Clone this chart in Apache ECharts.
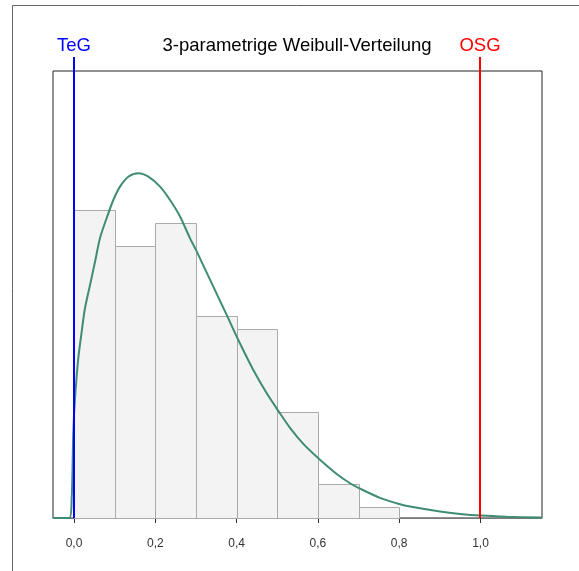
<!DOCTYPE html>
<html>
<head>
<meta charset="utf-8">
<script src="https://cdn.jsdelivr.net/npm/echarts@6/dist/echarts.min.js"></script>
<style>
  html, body { margin: 0; padding: 0; background: #fff; }
  #chart { width: 579px; height: 571px; }
</style>
</head>
<body>
<div id="chart"></div>
<script>
// Histogram classes (lower edge, upper edge) and density heights
const binStart = [0.0, 0.1, 0.2, 0.3, 0.4, 0.5, 0.6, 0.7];
const binEnd   = [0.1, 0.2, 0.3, 0.4, 0.5, 0.6, 0.7, 0.8];
const binDensity = [2.17, 1.92, 2.08, 1.42, 1.33, 0.75, 0.24, 0.08];

// Fitted 3-parameter Weibull density, sampled points
const curveX = [-0.0517, -0.0116, -0.0057, -0.0017, 0.0025, 0.0106, 0.0189, 0.0271, 0.0394, 0.0517,
  0.064, 0.0804, 0.0967, 0.1132, 0.1336, 0.1582, 0.1828, 0.2116, 0.2362, 0.2608,
  0.2854, 0.3001, 0.3427, 0.3756, 0.4042, 0.4411, 0.4741, 0.5026, 0.5314, 0.5641,
  0.601, 0.6463, 0.679, 0.7036, 0.7528, 0.802, 0.8266, 0.9004, 0.9496, 1.0012, 1.0644, 1.1513];
const curveY = [0, 0, 0.139, 0.608, 0.846, 1.128, 1.313, 1.48, 1.642, 1.806,
  1.973, 2.114, 2.241, 2.335, 2.405, 2.429, 2.405, 2.335, 2.241, 2.125,
  1.971, 1.889, 1.63, 1.431, 1.254, 1.043, 0.879, 0.755, 0.635, 0.522,
  0.421, 0.31, 0.245, 0.207, 0.142, 0.097, 0.081, 0.046, 0.029, 0.017, 0.009, 0.003];

// Specification limits
const limitNames = ['TeG', 'OSG'];
const limitValues = [0.0, 1.0];
const limitColors = ['#0000ff', '#ff0000'];

// Axis tick positions
const tickValues = [0.0, 0.2, 0.4, 0.6, 0.8, 1.0];

const titleText = '3-parametrige Weibull-Verteilung';
const FONT = '"Liberation Sans", Arial, sans-serif';

const chart = echarts.init(document.getElementById('chart'), null, { renderer: 'canvas' });

const histData = binStart.map((s, i) => [s, binEnd[i], binDensity[i]]);
const curveData = curveX.map((x, i) => [x, curveY[i]]);
const limitData = limitValues.map(v => [v]);

const px = v => Math.round(v) + 0.5;

chart.setOption({
  animation: false,
  backgroundColor: '#ffffff',
  grid: {
    left: 53, right: 37, top: 71, bottom: 53,
    show: true, borderColor: '#222', borderWidth: 1, backgroundColor: 'transparent'
  },
  graphic: [
    {
      type: 'rect', silent: true, z: -10,
      shape: { x: 12.5, y: 5.5, width: 620, height: 620 },
      style: { fill: 'none', stroke: '#666', lineWidth: 1 }
    },
    {
      type: 'text', silent: true,
      style: {
        text: titleText, x: 297, y: 46, align: 'center', verticalAlign: 'middle',
        font: '18.5px ' + FONT, fill: '#000'
      }
    }
  ],
  xAxis: {
    type: 'value', min: -0.0517, max: 1.1513,
    splitLine: { show: false },
    axisLine: { show: true, onZero: false, lineStyle: { color: '#777', width: 1 } },
    axisTick: { show: true, customValues: tickValues, length: 5, lineStyle: { color: '#333' } },
    axisLabel: {
      show: true, customValues: tickValues, margin: 20,
      fontFamily: FONT, fontSize: 12, color: '#333',
      formatter: v => v.toFixed(1).replace('.', ',')
    }
  },
  yAxis: {
    type: 'value', min: 0, max: 3.15,
    show: false, splitLine: { show: false }
  },
  series: [
    {
      type: 'custom', name: 'Histogramm', data: histData, z: 2,
      renderItem: (params, api) => {
        const p0 = api.coord([api.value(0), api.value(2)]);
        const p1 = api.coord([api.value(1), 0]);
        const x0 = px(p0[0]), x1 = px(p1[0]);
        const y0 = px(p0[1]), y1 = px(p1[1]);
        return {
          type: 'rect',
          shape: { x: x0, y: y0, width: x1 - x0, height: y1 - y0 },
          style: { fill: '#f3f3f3', stroke: '#aaaaaa', lineWidth: 1 }
        };
      }
    },
    {
      type: 'line', name: 'Weibull', data: curveData, z: 4,
      showSymbol: false, smooth: 0.3,
      lineStyle: { color: '#3f8c74', width: 2 },
      clip: true
    },
    {
      type: 'custom', name: 'Grenzen', data: limitData, z: 5, clip: false,
      renderItem: (params, api) => {
        const i = params.dataIndex;
        const base = api.coord([api.value(0), 0]);
        const top = params.coordSys.y;
        const x = px(base[0]) - 0.5;
        return {
          type: 'group',
          children: [
            {
              type: 'line',
              shape: { x1: x, y1: base[1], x2: x, y2: top - 14 },
              style: { stroke: limitColors[i], lineWidth: 2 }
            },
            {
              type: 'text',
              style: {
                text: limitNames[i], x: x, y: top - 25,
                align: 'center', verticalAlign: 'middle',
                font: '18.5px ' + FONT, fill: limitColors[i]
              }
            }
          ]
        };
      }
    }
  ]
});
</script>
</body>
</html>
